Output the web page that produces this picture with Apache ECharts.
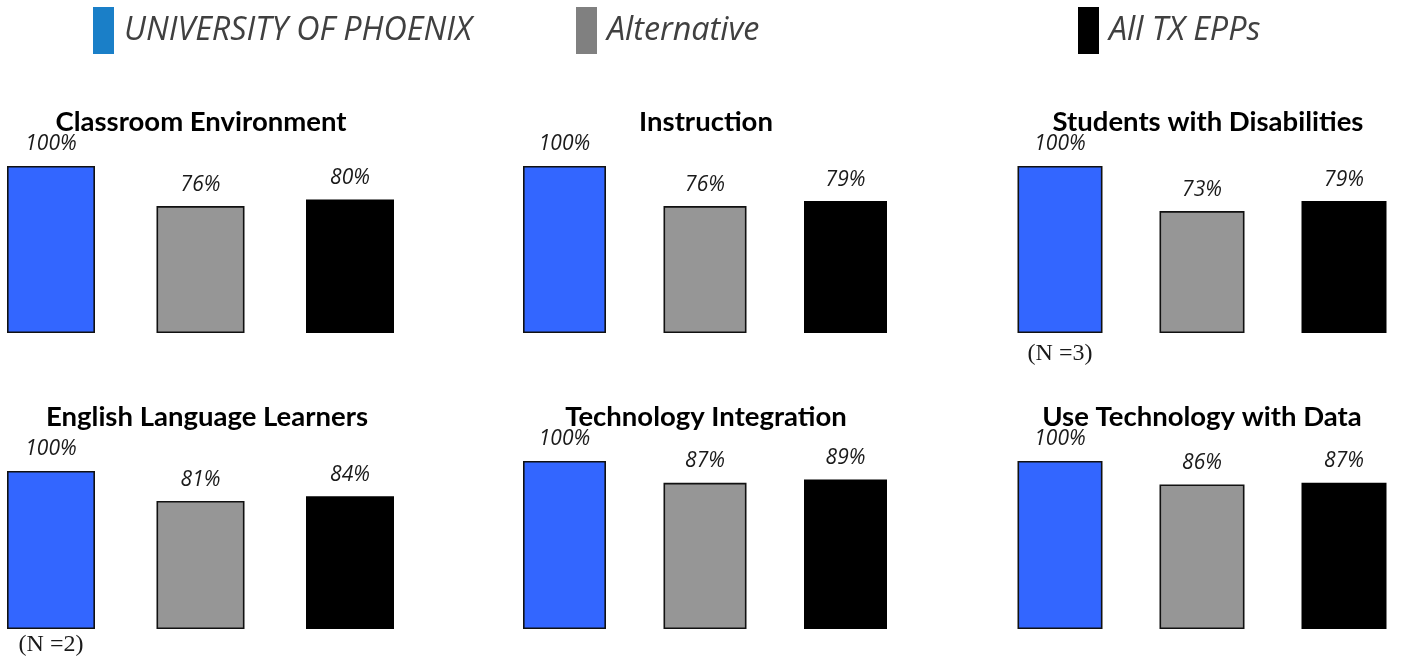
<!DOCTYPE html>
<html>
<head>
<meta charset="utf-8">
<script src="https://cdn.jsdelivr.net/npm/echarts@6/dist/echarts.min.js"></script>
<style>html,body{margin:0;padding:0;background:#fff}#c{width:1404px;height:658px}</style>
</head>
<body>
<div id="c"></div>
<script>
const seriesNames = ['UNIVERSITY OF PHOENIX', 'Alternative', 'All TX EPPs'];
const panelTitles = ['Classroom Environment', 'Instruction', 'Students with Disabilities',
  'English Language Learners', 'Technology Integration', 'Use Technology with Data'];
const uopValues = [100, 100, 100, 100, 100, 100];
const altValues = [76, 76, 73, 81, 87, 86];
const txValues = [80, 79, 79, 84, 89, 87];
const nNotes = ['', '', '(N =3)', '(N =2)', '', ''];

const barColors = ['#3366ff', '#969696', '#000000'];
const legendColors = ['#1a7fc8', '#808080', '#000000'];

// layout per panel: [gridLeft (first bar center), gridWidth (to last bar center), top, height, barWidth, titleX, titleY, noteMargin]
const layout = [
  [51, 299, 166, 167, 88, 201, 103, 9],
  [564.5, 281, 166, 167, 83, 706, 103, 9],
  [1060, 284, 166, 167, 85, 1208, 103, 9],
  [51, 299, 471, 158, 88, 207, 398, 4],
  [564.5, 281, 461, 168, 83, 706, 398, 4],
  [1060, 284, 461, 168, 85, 1202, 398, 4]
];

const grids = [], xAxes = [], yAxes = [], series = [], titles = [];
const allVals = [uopValues, altValues, txValues];
layout.forEach((L, p) => {
  grids.push({left: L[0], width: L[1], top: L[2], height: L[3], containLabel: false});
  xAxes.push({
    type: 'category', gridIndex: p, data: seriesNames, boundaryGap: false,
    axisLine: {show: false}, axisTick: {show: false}, splitLine: {show: false},
    axisLabel: {
      show: true, interval: 0, margin: L[7],
      fontFamily: '"Liberation Serif", "DejaVu Serif", serif', fontSize: 24, color: '#1a1a1a',
      formatter: (v, i) => (i === 0 ? nNotes[p] : '')
    }
  });
  yAxes.push({
    type: 'value', gridIndex: p, min: 0, max: 100,
    show: false, splitLine: {show: false}
  });
  titles.push({
    text: panelTitles[p], left: L[5] - 5, top: L[6], textAlign: 'center',
    textStyle: {fontFamily: 'Lato, "Open Sans", sans-serif', fontWeight: 'bold', fontSize: 27.5, color: '#000'}
  });
  seriesNames.forEach((name, k) => {
    const d = ['-', '-', '-'];
    d[k] = allVals[k][p];
    series.push({
      type: 'bar', name: name, xAxisIndex: p, yAxisIndex: p,
      data: d, barWidth: L[4], barGap: '-100%',
      itemStyle: {color: barColors[k], borderColor: '#111', borderWidth: k === 2 ? 0 : 1.6},
      label: {
        show: true, position: 'top', distance: 11,
        formatter: '{c}%', fontFamily: '"Open Sans", sans-serif', fontStyle: 'italic',
        fontSize: 21, color: '#1a1a1a'
      },
      emphasis: {disabled: true},
      animation: false
    });
  });
});

const legendLefts = [88, 571, 1073];
const legends = seriesNames.map((name, k) => ({
  left: legendLefts[k], top: 2, orient: 'horizontal',
  icon: 'rect', itemWidth: 21, itemHeight: 47, selectedMode: false,
  data: [{name: name, itemStyle: {color: legendColors[k], borderWidth: 0}}],
  textStyle: {fontFamily: '"Open Sans", sans-serif', fontStyle: 'italic', fontSize: 32.3, color: '#404040', padding: [0, 0, 6, 5]}
}));

const chart = echarts.init(document.getElementById('c'), null, {renderer: 'canvas'});
chart.setOption({
  animation: false,
  backgroundColor: '#ffffff',
  title: titles,
  legend: legends,
  grid: grids,
  xAxis: xAxes,
  yAxis: yAxes,
  series: series
});
</script>
</body>
</html>
